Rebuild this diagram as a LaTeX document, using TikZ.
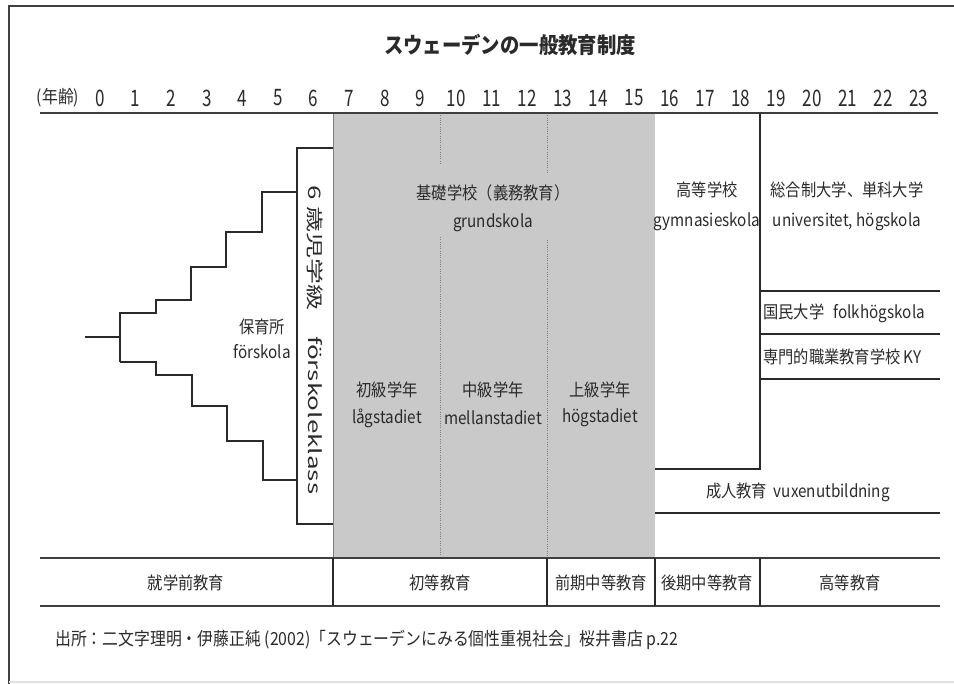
\documentclass[tikz,border=0pt]{standalone}
\usepackage{fontspec}
\setmainfont{Noto Sans CJK JP}[FakeStretch=0.88]
\newfontfamily\numfont{Noto Sans CJK JP}[FakeStretch=0.75]
\newfontfamily\vertfont{Noto Sans CJK JP}[FakeStretch=1.5]
\definecolor{ink}{HTML}{2A2A2A}
\definecolor{blockgray}{HTML}{C9C9C9}
\tikzset{
  lbl/.style={inner sep=0pt, text=ink, font=\fontsize{13}{15}\selectfont},
  numlbl/.style={inner sep=0pt, text=ink, font=\numfont\fontsize{17}{19}\selectfont},
  ttl/.style={inner sep=0pt, text=ink, font=\bfseries\fontsize{16.5}{19}\selectfont},
  vlbl/.style={inner sep=0pt, text=ink, rotate=-90, font=\vertfont\fontsize{13}{15}\selectfont},
  ln/.style={line width=1.1pt, draw=ink},
  rule/.style={line width=1.8pt, draw=ink!90},
  dotln/.style={line width=0.7pt, draw=ink!60, densely dotted},
}
\begin{document}
\begin{tikzpicture}[x=0.75pt, y=-0.75pt]
\useasboundingbox (0,0) rectangle (954,684);
% frame
\draw[line width=1.2pt, draw=black!75] (954,6) -- (9,6) -- (9,684);
\draw[line width=2pt, draw=black!12] (9,682) -- (954,682);

% title
\node[ttl] (title) at (510,45) {スウェーデンの一般教育制度};

% age axis
\node[lbl, font=\fontsize{13.5}{15}\selectfont] (agehdr) at (58,98) {(年齢)};
\foreach \a in {0,...,23} {
  \node[numlbl] (age\a) at ({100+35.6*\a},98) {\a};
}

% shaded compulsory school block
\fill[blockgray] (333,113) rectangle (655,557);
\draw[dotln] (440,113) -- (440,165);
\draw[dotln] (440,237) -- (440,557);
\draw[dotln] (547,113) -- (547,172);
\draw[dotln] (547,240) -- (547,557);
\draw[line width=0.6pt, draw=ink!60] (333,113) -- (333,557);

% axis rule
\draw[rule] (40,113) -- (938,113);

% forskoleklass box
\draw[ln] (333,148) -- (297,148) -- (297,524) -- (333,524);
\node[vlbl] (fkk) at (315,340) {6 歳児学級　förskoleklass};

% stairs (forskola)
\draw[ln] (85,337) -- (120,337);
\draw[ln] (120,362) -- (120,313) -- (156,313) -- (156,300) -- (191,300)
  -- (191,267) -- (226,267) -- (226,232) -- (262,232) -- (262,192) -- (297,192);
\draw[ln] (120,362) -- (156,362) -- (156,375) -- (192,375) -- (192,406)
  -- (227,406) -- (227,441) -- (263,441) -- (263,480) -- (297,480);
\node[lbl] (fsk1) at (262,327) {保育所};
\node[lbl] (fsk2) at (262,352) {förskola};

% grundskola
\node[lbl] (gs1) at (493,193) {基礎学校（義務教育）};
\node[lbl] (gs2) at (493,223) {grundskola};
\node[lbl] (lag1) at (387,390) {初級学年};
\node[lbl] (lag2) at (387,418) {lågstadiet};
\node[lbl] (mel1) at (493,390) {中級学年};
\node[lbl] (mel2) at (493,418) {mellanstadiet};
\node[lbl] (hog1) at (600,390) {上級学年};
\node[lbl] (hog2) at (600,418) {högstadiet};

% gymnasieskola
\draw[ln] (760,113) -- (760,469) -- (655,469);
\node[lbl] (gy1) at (707,190) {高等学校};
\node[lbl] (gy2) at (707,222) {gymnasieskola};

% higher education
\node[lbl] (un1) at (847,190) {総合制大学、単科大学};
\node[lbl] (un2) at (847,222) {universitet, högskola};
\draw[ln] (760,291) -- (940,291);
\node[lbl, anchor=west] (folk) at (763,313) {国民大学\hspace{7pt}folkhögskola};
\draw[ln] (760,334) -- (940,334);
\node[lbl, anchor=west] (ky) at (763,357) {専門的職業教育学校 KY};
\draw[ln] (760,379) -- (940,379);

% adult education
\node[lbl] (vux) at (798,492) {成人教育\hspace{5pt}vuxenutbildning};
\draw[ln] (655,513) -- (940,513);

% bottom table
\draw[rule] (40,558) -- (940,558);
\draw[rule] (40,606) -- (940,606);
\foreach \x in {333,547,655,760} {
  \draw[ln] (\x,558) -- (\x,606);
}
\node[lbl] (b1) at (186,583) {就学前教育};
\node[lbl] (b2) at (440,583) {初等教育};
\node[lbl] (b3) at (601,583) {前期中等教育};
\node[lbl] (b4) at (707,583) {後期中等教育};
\node[lbl] (b5) at (850,583) {高等教育};

% source
\node[lbl, anchor=west, font=\fontsize{13.5}{15}\selectfont] (src) at (55,640) {出所：二文字理明・伊藤正純 (2002)「スウェーデンにみる個性重視社会」桜井書店 p.22};
\end{tikzpicture}
\end{document}
